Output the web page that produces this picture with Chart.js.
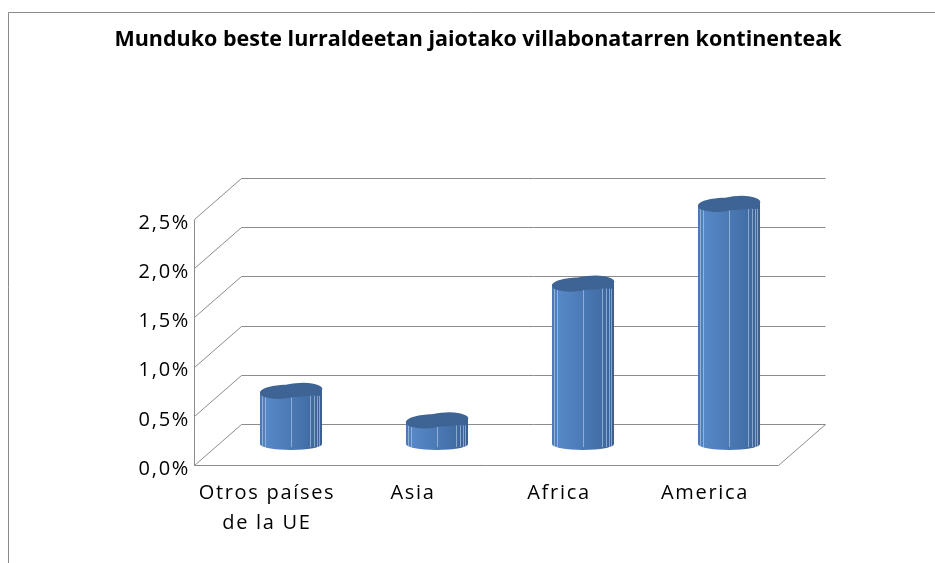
<!DOCTYPE html>
<html>
<head>
<meta charset="utf-8">
<script src="https://cdn.jsdelivr.net/npm/chart.js@4"></script>
<style>
html,body{margin:0;padding:0;background:#fff;}
canvas{display:block;}
</style>
</head>
<body>
<canvas id="c" width="935" height="563"></canvas>
<script>
const titleText = 'Munduko beste lurraldeetan jaiotako villabonatarren kontinenteak';
const categories = [['Otros países', 'de la UE'], 'Asia', 'Africa', 'America'];
const values = [0.55, 0.25, 1.64, 2.45];
const yMin = 0;
const yMax = 2.5;
const yStep = 0.5;

const DX = 47, DY = -41;       // depth of the 3D box
const BX = 24, BY = -21;       // bar plane offset (middle of depth)

const deco = {
  id: 'deco',
  beforeDraw(chart) {
    const ctx = chart.ctx;
    ctx.save();
    ctx.fillStyle = '#fff';
    ctx.fillRect(0, 0, chart.width, chart.height);
    ctx.strokeStyle = '#8a8a8a';
    ctx.lineWidth = 1;
    ctx.beginPath();
    ctx.moveTo(8.5, chart.height);
    ctx.lineTo(8.5, 12.5);
    ctx.lineTo(chart.width, 12.5);
    ctx.stroke();
    ctx.letterSpacing = '0px';
    ctx.fillStyle = '#000';
    ctx.font = 'bold 21.5px "Open Sans"';
    ctx.textAlign = 'center';
    ctx.textBaseline = 'middle';
    ctx.fillText(titleText, 478, 40);
    ctx.restore();
    ctx.letterSpacing = '1.7px';
  },
  beforeDatasetsDraw(chart) {
    const ctx = chart.ctx;
    const ys = chart.scales.y;
    const ca = chart.chartArea;
    const L = Math.round(ca.left) + 0.5, R = Math.round(ca.right) + 0.5;
    ctx.save();
    ctx.strokeStyle = '#8c8c8c';
    ctx.lineWidth = 1;
    ctx.beginPath();
    ys.ticks.forEach(t => {
      const y = Math.round(ys.getPixelForValue(t.value)) + 0.5;
      ctx.moveTo(L, y);
      ctx.lineTo(L + DX, y + DY);
      ctx.lineTo(R + DX, y + DY);
    });
    const y0 = Math.round(ys.getPixelForValue(yMin)) + 0.5;
    const yT = Math.round(ys.getPixelForValue(yMax)) + 0.5;
    ctx.moveTo(L, yT);
    ctx.lineTo(L, y0);
    ctx.lineTo(R, y0);
    ctx.lineTo(R + DX, y0 + DY);
    ctx.stroke();
    ctx.restore();
  },
  afterDatasetsDraw(chart) {
    const ctx = chart.ctx;
    const meta = chart.getDatasetMeta(0);
    ctx.save();
    meta.data.forEach(el => {
      const cx = el.x + BX;
      const ty = el.y + BY;
      const by = el.base + BY;
      const w = el.width;
      const hw = w / 2;
      const left = cx - hw;
      const g = ctx.createLinearGradient(left, 0, left + w, 0);
      g.addColorStop(0, '#4a78b6');
      g.addColorStop(0.12, '#5687c6');
      g.addColorStop(0.45, '#4c7bb7');
      g.addColorStop(0.75, '#4470a8');
      g.addColorStop(1, '#3b5f90');
      ctx.fillStyle = g;
      ctx.beginPath();
      ctx.moveTo(left, ty + 2);
      ctx.lineTo(left, by);
      ctx.ellipse(cx, by, hw, 6, 0, Math.PI, 0, true);
      ctx.lineTo(left + w, ty);
      ctx.closePath();
      ctx.fill();
      // facet lines
      ctx.strokeStyle = 'rgba(200,218,240,0.55)';
      ctx.lineWidth = 1;
      [2, 5, 31, 50, 54, 57, 59].forEach(o => {
        const x = Math.round(left + o * w / 62) + 0.5;
        ctx.beginPath();
        ctx.moveTo(x, ty + 6);
        ctx.lineTo(x, by + 3);
        ctx.stroke();
      });
      // top lobes
      ctx.fillStyle = '#3e6495';
      ctx.beginPath();
      ctx.ellipse(cx - 10, ty + 2, hw * 0.68, 7, -0.05, 0, Math.PI * 2);
      ctx.fill();
      ctx.beginPath();
      ctx.ellipse(cx + 9, ty, hw * 0.72, 7, -0.05, 0, Math.PI * 2);
      ctx.fill();
    });
    ctx.restore();
  }
};

new Chart(document.getElementById('c'), {
  type: 'bar',
  data: {
    labels: categories,
    datasets: [{
      data: values,
      backgroundColor: 'rgba(0,0,0,0)',
      borderWidth: 0,
      barPercentage: 0.425,
      categoryPercentage: 1
    }]
  },
  options: {
    responsive: false,
    animation: false,
    devicePixelRatio: 1,
    layout: { padding: { top: 219, left: 0, right: 157, bottom: 0 } },
    plugins: { legend: { display: false }, title: { display: false }, tooltip: { enabled: false } },
    scales: {
      x: {
        grid: { display: false, drawTicks: false },
        border: { display: false },
        ticks: {
          color: '#000',
          font: { family: 'Open Sans', size: 20, lineHeight: 1.5 },
          padding: 13,
          maxRotation: 0,
          autoSkip: false
        },
        afterFit: s => { s.height = 98; }
      },
      y: {
        min: yMin,
        max: yMax,
        grid: { display: false, drawTicks: false },
        border: { display: false },
        ticks: {
          stepSize: yStep,
          color: '#000',
          font: { family: 'Open Sans', size: 20 },
          padding: 4,
          labelOffset: 4,
          callback: v => v.toFixed(1).replace('.', ',') + '%'
        },
        afterFit: s => { s.width = 194; }
      }
    }
  },
  plugins: [deco]
});
</script>
</body>
</html>
